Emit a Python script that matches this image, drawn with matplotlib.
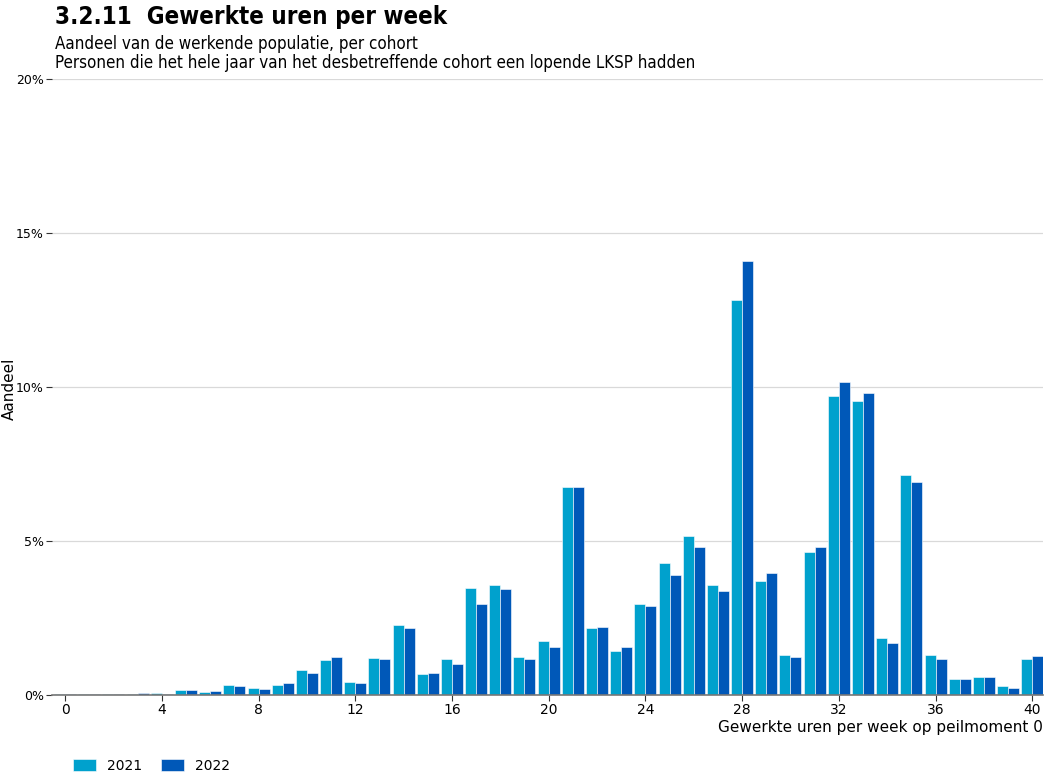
import numpy as np
import matplotlib
matplotlib.use("Agg")
import matplotlib.pyplot as plt
from matplotlib.ticker import FuncFormatter

# Gewerkte uren per week (0..40), aandeel in %
uren = list(range(0, 41))
aandeel_2021 = [0.02, 0.03, 0.03, 0.03, 0.06, 0.15, 0.10, 0.32, 0.24, 0.32,
                0.80, 1.14, 0.42, 1.20, 2.27, 0.69, 1.17, 3.46, 3.57, 1.22,
                1.74, 6.76, 2.18, 1.42, 2.94, 4.28, 5.16, 3.56, 12.82, 3.71,
                1.30, 4.63, 9.72, 9.55, 1.84, 7.14, 1.30, 0.51, 0.59, 0.30,
                1.18]
aandeel_2022 = [0.02, 0.03, 0.04, 0.08, 0.04, 0.15, 0.12, 0.29, 0.21, 0.39,
                0.70, 1.23, 0.40, 1.17, 2.16, 0.71, 1.02, 2.95, 3.43, 1.17,
                1.57, 6.74, 2.21, 1.56, 2.89, 3.91, 4.82, 3.39, 14.09, 3.95,
                1.23, 4.82, 10.16, 9.81, 1.70, 6.93, 1.16, 0.52, 0.59, 0.24,
                1.27]
jaren = ["2021", "2022"]
kleuren = ["#00A1CD", "#0058B8"]

plt.rcParams['font.family'] = ['DejaVu Sans']

fig = plt.figure(figsize=(10.51, 7.77), dpi=100)
ax = fig.add_axes([0.0495, 0.1055, 0.943, 0.7928])

x = np.array(uren)
w = 0.455
ax.bar(x - w / 2, aandeel_2021, width=w, color=kleuren[0], edgecolor="white",
       linewidth=0.4, label=jaren[0], zorder=3)
ax.bar(x + w / 2, aandeel_2022, width=w, color=kleuren[1], edgecolor="white",
       linewidth=0.4, label=jaren[1], zorder=3)

ax.set_xlim(-0.54, 40.45)
ax.set_ylim(0, 20)
ax.set_xticks(range(0, 41, 4))
ax.set_yticks([0, 5, 10, 15, 20])
ax.yaxis.set_major_formatter(FuncFormatter(lambda v, p: f"{v:.0f}%"))
ax.grid(axis="y", color="#d9d9d9", linewidth=0.9, zorder=0)

for s in ["top", "right", "left"]:
    ax.spines[s].set_visible(False)
ax.spines["bottom"].set_color("#777777")
ax.spines["bottom"].set_linewidth(1.2)
ax.spines["bottom"].set_zorder(4)
ax.tick_params(axis="y", length=4, width=0.8, color="#333333", labelsize=9, pad=2)
ax.tick_params(axis="x", length=4, width=0.8, color="#333333", labelsize=10, pad=2)

ax.set_xlabel("Gewerkte uren per week op peilmoment 0", fontsize=11,
              loc="right", labelpad=2)
fig.text(0.009, 0.5, "Aandeel", fontsize=11, rotation=90,
         va="center", ha="center")

fig.text(0.052, 0.993, "3.2.11  Gewerkte uren per week", fontsize=17.3,
         fontweight="bold", fontstretch="condensed", va="top", ha="left")
fig.text(0.052, 0.955, "Aandeel van de werkende populatie, per cohort",
         fontsize=12.2, fontstretch="condensed", va="top", ha="left")
fig.text(0.052, 0.931, "Personen die het hele jaar van het desbetreffende cohort een lopende LKSP hadden",
         fontsize=12.2, fontstretch="condensed", va="top", ha="left")

fig.legend(loc="lower left", bbox_to_anchor=(0.058, -0.011), ncol=2, frameon=False,
           fontsize=10, handlelength=1.65, handleheight=0.9, handletextpad=0.8,
           columnspacing=1.3)

fig.savefig("out.png", dpi=100)
